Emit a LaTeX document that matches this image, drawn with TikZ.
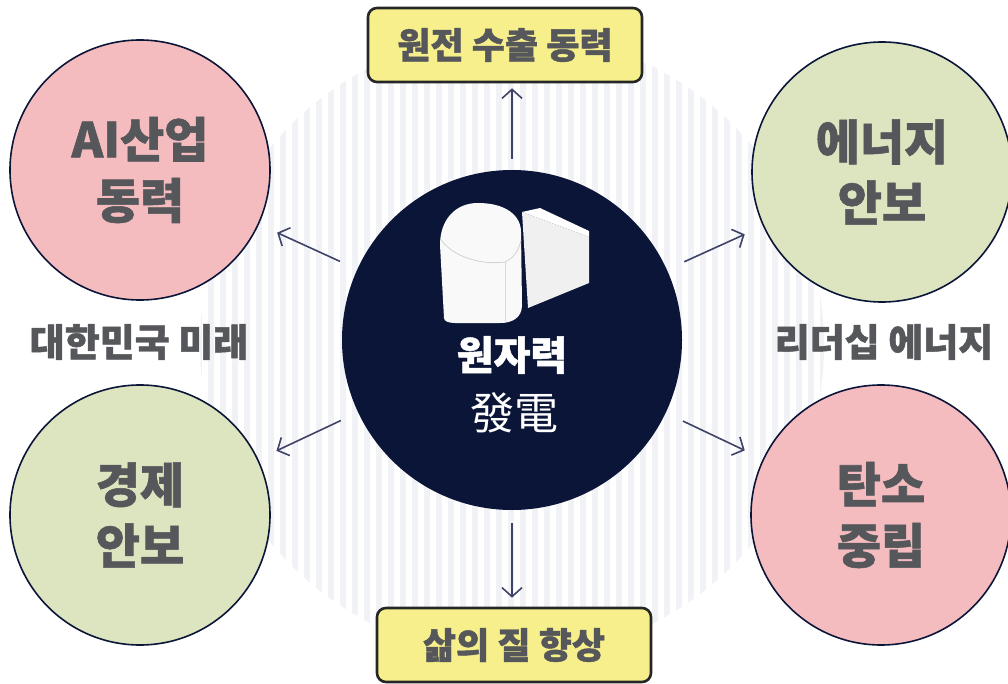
\documentclass[tikz,border=0pt]{standalone}
\usepackage{fontspec}
\setmainfont{Noto Sans CJK KR}[BoldFeatures={FakeBold=1.2}]
\usetikzlibrary{arrows.meta}

\definecolor{navy}{HTML}{0B1538}
\definecolor{txtgray}{HTML}{55575A}
\definecolor{pinkfill}{HTML}{F5BCC0}
\definecolor{greenfill}{HTML}{DDE5C0}
\definecolor{tagyellow}{HTML}{F6EF8C}
\definecolor{arrowc}{HTML}{3E4368}
\definecolor{stripe}{HTML}{F0F2F5}

\tikzset{
  goal/.style={circle, draw=navy, line width=1.6pt, minimum size=260pt, inner sep=0pt,
    text=txtgray, align=center, font=\bfseries\fontsize{48}{61}\selectfont},
  tagbox/.style={draw=black!85, line width=2.6pt, rounded corners=9pt, fill=tagyellow,
    minimum width=274pt, minimum height=74pt, text=txtgray, font=\bfseries\fontsize{36}{40}\selectfont},
  sidetext/.style={text=txtgray, font=\bfseries\fontsize{38}{40}\selectfont},
  arr/.style={draw=arrowc, line width=1.6pt, -{Straight Barb[length=9pt,width=20pt]}}
}

\begin{document}
\begin{tikzpicture}[x=1pt, y=-1pt]
    \useasboundingbox (0,0) rectangle (1008,684);
    % faint striped backdrop
    \begin{scope}
        \clip (512,345) circle (312);
        \foreach \x in {196,208,...,830} {
            \fill[stripe] (\x,30) rectangle ++(6,630);
        }
    \end{scope}
    % centre
    \node[circle, fill=navy, minimum size=340pt, inner sep=0pt] (core) at (512,340) {};
    % plant icon: annex block
    \fill[gray!12] (522,212) -- (589,237) -- (589,283) -- (528,308) -- cycle;
    \fill[white] (522,212) -- (540,208) -- (589,231) -- (589,237) -- cycle;
    % plant icon: reactor
    \fill[white!95!gray] (444,318) -- (440,245) .. controls (440,220) and (455,203) .. (478,203)
        .. controls (505,203) and (521,215) .. (521,232) -- (522,305)
        .. controls (522,318) and (512,323) .. (500,323) -- (455,323)
        .. controls (448,323) and (444,321) .. (444,318) -- cycle;
    \draw[gray!35, line width=0.8pt] (441,240) .. controls (455,258) and (482,265) .. (505,262)
        .. controls (514,258) and (519,250) .. (521,240);
    \draw[gray!30, line width=0.8pt] (505,262) -- (505,323);
    \node[text=white, font=\bfseries\fontsize{40}{44}\selectfont] (power) at (512,355) {원자력};
    \node[text=white, font=\fontsize{44}{48}\selectfont] (hanja) at (514,413) {發電};
    % outer goals
    \node[goal, fill=pinkfill] (ai) at (140,170) {AI산업\\동력};
    \node[goal, fill=greenfill] (energy) at (882,172) {에너지\\안보};
    \node[goal, fill=greenfill] (econ) at (140,515) {경제\\안보};
    \node[goal, fill=pinkfill] (carbon) at (881,515) {탄소\\중립};
    % yellow tags
    \node[tagbox] (export) at (505,45) {원전 수출 동력};
    \node[tagbox] (life) at (514,645) {삶의 질 향상\hspace{20pt}};
    % side labels
    \node[sidetext] (future) at (139,342) {대한민국 미래};
    \node[sidetext] (leader) at (884,342) {리더십 에너지};
    % arrows out of the centre
    \draw[arr, shorten <=11pt, shorten >=5pt] (core.north) -- (core.north |- export.south);
    \draw[arr, shorten <=13pt, shorten >=9pt] (core.south) -- (core.south |- life.north);
    \foreach \g in {ai, energy, econ, carbon} {
        \draw[arr, shorten <=19pt, shorten >=20pt] (core) -- (\g);
    }
\end{tikzpicture}
\end{document}
